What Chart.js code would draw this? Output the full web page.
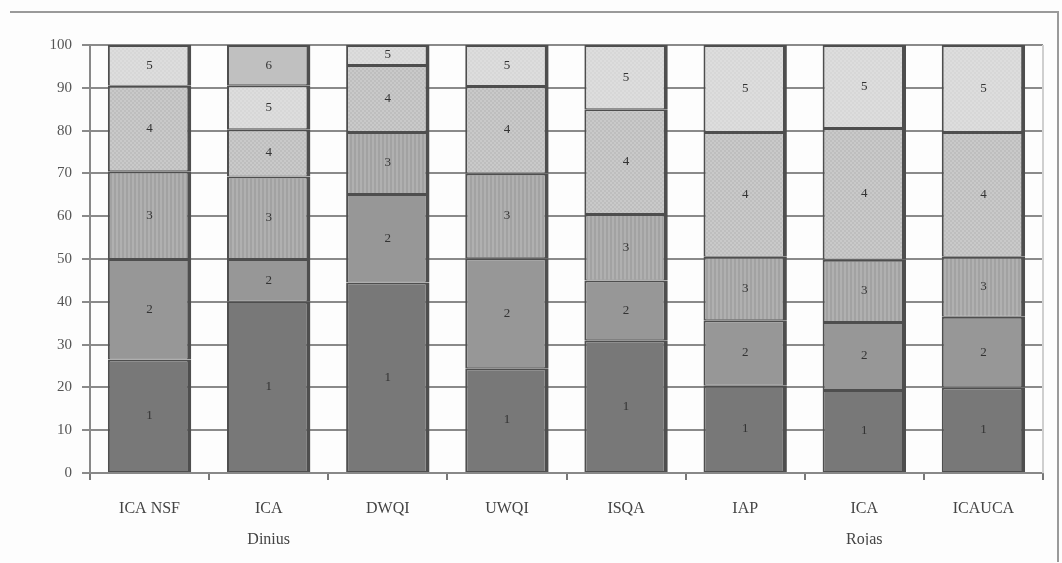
<!DOCTYPE html>
<html>
<head>
<meta charset="utf-8">
<script src="https://cdn.jsdelivr.net/npm/chart.js@4"></script>
<style>
  html, body { margin: 0; padding: 0; background: #ffffff; }
  #wrap { width: 1062px; height: 563px; position: relative; }
</style>
</head>
<body>
<div id="wrap"><canvas id="chart_indexShares"></canvas></div>
<script>
// categories (x axis) and share of each sub-index group, in percent
var categories = ['ICA NSF', ['ICA', 'Dinius'], 'DWQI', 'UWQI', 'ISQA', 'IAP', ['ICA', 'Rojas'], 'ICAUCA'];
var segment1 = [26.5, 40.0, 44.5, 24.5, 31.0, 20.4, 19.4, 20.0];
var segment2 = [23.5, 10.0, 20.7, 25.7, 14.0, 15.3, 15.9, 16.5];
var segment3 = [20.5, 19.3, 14.5, 19.8, 15.5, 14.8, 14.5, 14.0];
var segment4 = [20.0, 11.0, 15.6, 20.4, 24.5, 29.2, 30.8, 29.2];
var segment5 = [9.5, 10.3, 4.7, 9.6, 15.0, 20.3, 19.4, 20.3];
var segment6 = [0, 9.4, 0, 0, 0, 0, 0, 0];
var segmentNames = ['1', '2', '3', '4', '5', '6'];
var yTicks = [0, 10, 20, 30, 40, 50, 60, 70, 80, 90, 100];

function makePattern(a, b, kind) {
    var c = document.createElement('canvas');
    c.width = 4; c.height = 4;
    var g = c.getContext('2d');
    g.fillStyle = a;
    g.fillRect(0, 0, 4, 4);
    g.fillStyle = b;
    if (kind === 'stripes') {
        g.fillRect(0, 0, 2, 4);
    } else {
        g.fillRect(0, 0, 2, 2);
        g.fillRect(2, 2, 2, 2);
    }
    return document.getElementById('chart_indexShares').getContext('2d').createPattern(c, 'repeat');
}

var fills = [
    '#787878',
    '#979797',
    makePattern('#a2a2a2', '#b0b0b0', 'stripes'),
    makePattern('#bebebe', '#c9c9c9', 'checker'),
    makePattern('#d7d7d7', '#dddddd', 'checker'),
    '#c0c0c0'
];
var serif = '"Liberation Serif", "DejaVu Serif", serif';

var series = [segment1, segment2, segment3, segment4, segment5, segment6];
var datasets = series.map(function (values, i) {
    return {
        label: segmentNames[i],
        data: values,
        backgroundColor: fills[i],
        borderColor: '#4e4e4e',
        borderWidth: { top: 2, left: 2, right: 4, bottom: 1 },
        borderSkipped: false,
        inflateAmount: 0,
        barPercentage: 0.7,
        categoryPercentage: 1.0
    };
});

var chart_indexShares = new Chart(document.getElementById('chart_indexShares'), {
    type: 'bar',
    data: {
        labels: categories,
        datasets: datasets
    },
    options: {
        animation: false,
        responsive: true,
        maintainAspectRatio: false,
        layout: {
            padding: { top: 45, left: 12, right: 19, bottom: 18 }
        },
        plugins: {
            legend: { display: false },
            tooltip: { enabled: false }
        },
        scales: {
            x: {
                stacked: true,
                grid: {
                    display: true,
                    drawOnChartArea: false,
                    tickLength: 7,
                    color: '#777777',
                    lineWidth: 2
                },
                border: { display: true, color: '#888888', width: 2 },
                ticks: {
                    color: '#444444',
                    padding: 14,
                    maxRotation: 0,
                    autoSkip: false,
                    font: { family: serif, size: 16, lineHeight: 1.9 }
                },
                afterFit: function (axis) { axis.height = 72; }
            },
            y: {
                stacked: true,
                min: 0,
                max: 100,
                afterBuildTicks: function (axis) {
                    axis.ticks = yTicks.map(function (v) { return { value: v }; });
                },
                grid: {
                    color: '#8a8a8a',
                    lineWidth: 2,
                    tickLength: 8
                },
                border: { display: true, color: '#888888', width: 2 },
                ticks: {
                    color: '#555555',
                    padding: 10,
                    font: { family: serif, size: 15 }
                },
                afterFit: function (axis) { axis.width = 78; }
            }
        }
    },
    plugins: [{
        id: 'customPlugin',
        beforeDraw: function (chart) {
            var ctx = chart.ctx;
            ctx.save();
            ctx.fillStyle = '#fdfdfd';
            ctx.fillRect(0, 0, chart.width, chart.height);
            ctx.strokeStyle = '#9a9a9a';
            ctx.lineWidth = 2;
            ctx.beginPath();
            ctx.moveTo(10, 12);
            ctx.lineTo(1058, 12);
            ctx.lineTo(1058, 562);
            ctx.stroke();
            ctx.restore();
        },
        afterDraw: function (chart) {
            var ctx = chart.ctx;
            var area = chart.chartArea;
            ctx.save();
            ctx.strokeStyle = '#cfcfcf';
            ctx.lineWidth = 2;
            ctx.beginPath();
            ctx.moveTo(area.right, area.top);
            ctx.lineTo(area.right, area.bottom);
            ctx.stroke();
            ctx.fillStyle = '#333333';
            ctx.font = '13px ' + serif;
            ctx.textAlign = 'center';
            ctx.textBaseline = 'middle';
            chart.data.datasets.forEach(function (ds, i) {
                var meta = chart.getDatasetMeta(i);
                meta.data.forEach(function (bar, j) {
                    if (!ds.data[j]) return;
                    ctx.fillText(ds.label, bar.x, (bar.y + bar.base) / 2);
                });
            });
            ctx.restore();
        }
    }]
});
</script>
</body>
</html>
